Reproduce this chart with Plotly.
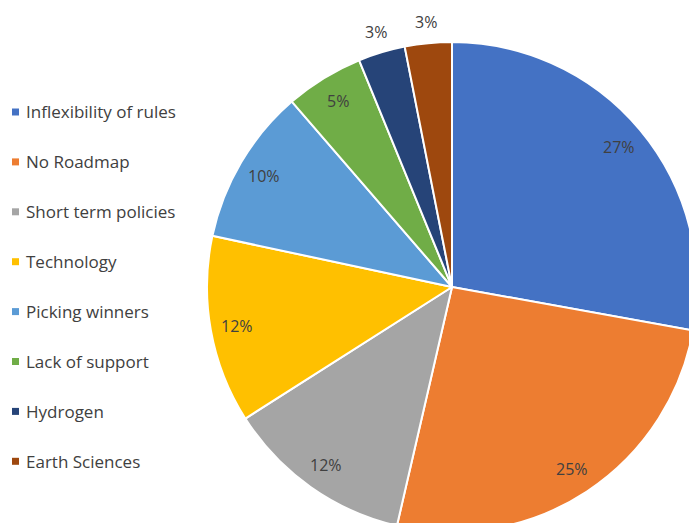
import math
import plotly.graph_objects as go

# Survey results: barriers named by respondents (percent of answers)
categories = [
    "Inflexibility of rules",
    "No Roadmap",
    "Short term policies",
    "Technology",
    "Picking winners",
    "Lack of support",
    "Hydrogen",
    "Earth Sciences",
]
shares = [27, 25, 12, 12, 10, 5, 3, 3]
colors = ["#4472C4", "#ED7D31", "#A5A5A5", "#FFC000",
          "#5B9BD5", "#70AD47", "#264478", "#9E480E"]

# Canvas is a little larger than the window so the pie runs off the right/bottom edge
W, H = 700, 535
CX, CY, R = 452, 287, 245          # pie centre and radius in pixels
TXT = "#404040"
FONT = "'Open Sans', Lato, sans-serif"

fig = go.Figure()
fig.add_trace(go.Pie(
    labels=categories,
    values=shares,
    sort=False,
    direction="clockwise",
    rotation=0,
    marker=dict(colors=colors, line=dict(color="white", width=2)),
    textinfo="none",
    hoverinfo="label+value",
    showlegend=False,
    domain=dict(x=[(CX - R) / W, (CX + R) / W],
                y=[(H - CY - R) / H, (H - CY + R) / H]),
))

# Percentage labels placed along each slice's mid-angle
total = sum(shares)
cum = 0.0
annotations = []
for v in shares:
    mid = (cum + v / 2) / total * 2 * math.pi
    cum += v
    r = 0.89 * R if v / total > 0.04 else 1.085 * R
    px = CX + r * math.sin(mid)
    py = CY - r * math.cos(mid)
    annotations.append(dict(
        x=px / W, y=(H - py) / H, xref="paper", yref="paper",
        text=f"{v}%", showarrow=False,
        font=dict(family=FONT, size=16, color=TXT),
        xanchor="center", yanchor="middle",
    ))

# Legend on the left: small colour squares with category names
shapes = []
for i, (name, c) in enumerate(zip(categories, colors)):
    yc = 112 + 49.9 * i
    shapes.append(dict(
        type="rect", xref="paper", yref="paper",
        x0=12 / W, x1=19 / W, y0=(H - yc - 3.5) / H, y1=(H - yc + 3.5) / H,
        fillcolor=c, line=dict(width=0),
    ))
    annotations.append(dict(
        x=24 / W, y=(H - yc) / H, xref="paper", yref="paper",
        text=name, showarrow=False,
        font=dict(family=FONT, size=17, color=TXT),
        xanchor="left", yanchor="middle",
    ))

fig.update_layout(
    width=W, height=H,
    margin=dict(l=0, r=0, t=0, b=0),
    paper_bgcolor="white",
    plot_bgcolor="white",
    annotations=annotations,
    shapes=shapes,
)

fig.write_html(
    "out.html",
    post_script="document.documentElement.style.overflow='hidden';"
                "document.body.style.overflow='hidden';document.body.style.margin='0';",
)
